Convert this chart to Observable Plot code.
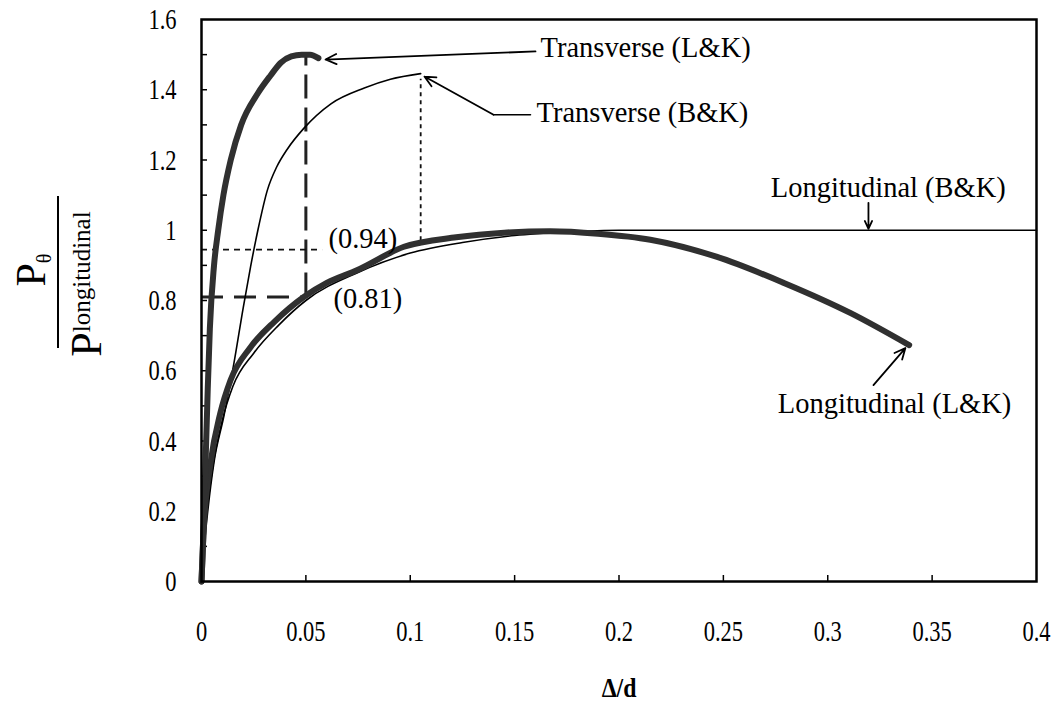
<!DOCTYPE html>
<html>
<head>
<meta charset="utf-8">
<script src="https://cdn.jsdelivr.net/npm/d3@7"></script>
<script src="https://cdn.jsdelivr.net/npm/@observablehq/plot@0.6"></script>
<style>
  html, body { margin: 0; padding: 0; background: white; }
</style>
</head>
<body>
<div id="chart"></div>
<script>
// ---- data ----
const transLK_x = [0, 0.001, 0.002, 0.003, 0.004, 0.006, 0.008, 0.0105, 0.014, 0.019, 0.027, 0.033, 0.038, 0.043, 0.048, 0.052, 0.056];
const transLK_y = [0, 0.15, 0.35, 0.55, 0.72, 0.90, 1.00, 1.10, 1.20, 1.30, 1.39, 1.44, 1.477, 1.495, 1.50, 1.50, 1.49];

const transBK_x = [0, 0.001, 0.003, 0.006, 0.0107, 0.0155, 0.020, 0.0235, 0.027, 0.0316, 0.036, 0.041, 0.049, 0.062, 0.078, 0.0905, 0.105];
const transBK_y = [0, 0.08, 0.20, 0.34, 0.47, 0.62, 0.78, 0.896, 1.00, 1.115, 1.18, 1.23, 1.29, 1.36, 1.405, 1.43, 1.446];

const longLK_x = [0, 0.001, 0.0043, 0.009, 0.0139, 0.0235, 0.035, 0.049, 0.060, 0.0747, 0.097, 0.122, 0.145, 0.167, 0.19, 0.215, 0.247, 0.279, 0.311, 0.339];
const longLK_y = [0, 0.145, 0.336, 0.479, 0.573, 0.667, 0.74, 0.81, 0.85, 0.887, 0.953, 0.98, 0.993, 0.997, 0.99, 0.973, 0.924, 0.85, 0.764, 0.673];

const longBK_x = [0, 0.0015, 0.005, 0.010, 0.015, 0.025, 0.037, 0.050, 0.075, 0.100, 0.125, 0.150, 0.175, 0.200, 0.225, 0.400];
const longBK_y = [0, 0.13, 0.31, 0.46, 0.555, 0.65, 0.73, 0.80, 0.88, 0.935, 0.965, 0.985, 0.995, 1.0, 1.0, 1.0];

// reference values marked on the chart
const markLK = {x: 0.05, yLow: 0.81, yHigh: 1.5};
const markBK = {x: 0.105, xLow: 0.058, yLevel: 0.945, yLow: 0.97, yHigh: 1.43};

// tick values and labels
const xTicks = [0, 0.05, 0.1, 0.15, 0.2, 0.25, 0.3, 0.35, 0.4];
const xTickLabels = ["0", "0.05", "0.1", "0.15", "0.2", "0.25", "0.3", "0.35", "0.4"];
const yTicks = [0, 0.2, 0.4, 0.6, 0.8, 1, 1.2, 1.4, 1.6];
const yTickLabels = ["0", "0.2", "0.4", "0.6", "0.8", "1", "1.2", "1.4", "1.6"];
const yMinorTicks = [0.1, 0.2, 0.3, 0.4, 0.5, 0.6, 0.7, 0.8, 0.9, 1.0, 1.1, 1.2, 1.3, 1.4, 1.5];
const xMinorTicks = [0.05, 0.1, 0.15, 0.2, 0.25, 0.3, 0.35];

const xTitle = "Δ/d";

// annotation labels (anchor point in data units)
const labelText = ["Transverse (L&K)", "Transverse (B&K)", "Longitudinal (B&K)", "Longitudinal (L&K)", "(0.94)", "(0.81)"];
const labelX = [0.1624, 0.1605, 0.329, 0.332, 0.0608, 0.0632];
const labelY = [1.52, 1.335, 1.121, 0.508, 0.978, 0.807];
const labelAnchor = ["start", "start", "middle", "middle", "start", "start"];

// leader arrows: [x1, y1, x2, y2]
const arrowX1 = [0.160, 0.1399, 0.3195, 0.3219];
const arrowY1 = [1.509, 1.329, 1.078, 0.559];
const arrowX2 = [0.0594, 0.1068, 0.3195, 0.3372];
const arrowY2 = [1.486, 1.4375, 1.004, 0.6646];
const leaderBK_x = [0.1576, 0.1399];
const leaderBK_y = [1.329, 1.329];

// ---- build tables ----
const toPts = (xs, ys) => xs.map((x, i) => ({x, y: ys[i]}));
const transLK = toPts(transLK_x, transLK_y);
const transBK = toPts(transBK_x, transBK_y);
const longLK = toPts(longLK_x, longLK_y);
const longBK = toPts(longBK_x, longBK_y);
const labels = labelText.map((t, i) => ({t, x: labelX[i], y: labelY[i], a: labelAnchor[i]}));
const arrows = arrowX1.map((x1, i) => ({x1, y1: arrowY1[i], x2: arrowX2[i], y2: arrowY2[i]}));
const xFmt = new Map(xTicks.map((d, i) => [d, xTickLabels[i]]));
const yFmt = new Map(yTicks.map((d, i) => [d, yTickLabels[i]]));

const W = 1058, H = 703, mL = 201, mR = 22, mT = 19, mB = 122;
const innerW = W - mL - mR, innerH = H - mT - mB;
const thick = "#303030";

const chart = Plot.plot({
  width: W, height: H,
  marginLeft: mL, marginRight: mR, marginTop: mT, marginBottom: mB,
  x: {domain: [0, 0.4]},
  y: {domain: [0, 1.6]},
  style: {fontFamily: "'Liberation Serif', serif", fontSize: "30px", color: "black", background: "white", overflow: "visible"},
  marks: [
    Plot.axisX({ticks: xTicks, tickFormat: d => xFmt.get(d), tickSize: 0, tickPadding: 38, label: null, fontSize: 30, className: "tick-x"}),
    Plot.axisY({ticks: yTicks, tickFormat: d => yFmt.get(d), tickSize: 0, tickPadding: 25, label: null, fontSize: 30, className: "tick-y"}),
    Plot.tickX(xMinorTicks, {x: d => d, insetTop: innerH - 6, stroke: "black", strokeWidth: 1.5}),
    Plot.tickY(yMinorTicks, {y: d => d, insetRight: innerW - 6, stroke: "black", strokeWidth: 1.5}),
    // reference dashed lines
    Plot.ruleY([markLK.yLow], {x1: 0, x2: markLK.x, stroke: "#222", strokeWidth: 3, strokeDasharray: "22,11"}),
    Plot.ruleX([markLK.x], {y1: markLK.yLow, y2: markLK.yHigh, stroke: "#222", strokeWidth: 3, strokeDasharray: "24,9"}),
    Plot.ruleY([markBK.yLevel], {x1: 0, x2: markBK.xLow, stroke: "#111", strokeWidth: 1.8, strokeDasharray: "6,5"}),
    Plot.ruleX([markBK.x], {y1: markBK.yLow, y2: markBK.yHigh, stroke: "#111", strokeWidth: 1.8, strokeDasharray: "4,4"}),
    // curves
    Plot.line(longBK, {x: "x", y: "y", stroke: "black", strokeWidth: 1.6, curve: "monotone-x"}),
    Plot.line(transBK, {x: "x", y: "y", stroke: "black", strokeWidth: 1.6, curve: "monotone-x"}),
    Plot.line(longLK, {x: "x", y: "y", stroke: thick, strokeWidth: 6, curve: "monotone-x"}),
    Plot.line(transLK, {x: "x", y: "y", stroke: thick, strokeWidth: 6, curve: "monotone-x"}),
    // leaders
    Plot.line(toPts(leaderBK_x, leaderBK_y), {x: "x", y: "y", stroke: "black", strokeWidth: 1.6}),
    Plot.arrow(arrows, {x1: "x1", y1: "y1", x2: "x2", y2: "y2", stroke: "black", strokeWidth: 1.8, headLength: 10, headAngle: 50}),
    // labels
    Plot.text(labels.filter(d => d.a === "start"), {x: "x", y: "y", text: "t", textAnchor: "start", fontSize: 30, fill: "black", className: "ann"}),
    Plot.text(labels.filter(d => d.a === "middle"), {x: "x", y: "y", text: "t", textAnchor: "middle", fontSize: 30, fill: "black", className: "ann"}),
    Plot.text([xTitle], {frameAnchor: "bottom", dy: 115, fontSize: 28, fontWeight: "bold", fill: "black", className: "x-title"}),
    Plot.frame({stroke: "black", strokeWidth: 2.5})
  ]
});

document.getElementById("chart").appendChild(chart);

// condense the serif glyphs horizontally, like the reference (scale about each text's anchor)
function condense(selection, K) {
  selection.each(function() {
    const bb = this.getBBox();
    const anchor = getComputedStyle(this).getPropertyValue("text-anchor");
    const ax = anchor === "middle" ? bb.x + bb.width / 2 : anchor === "end" ? bb.x + bb.width : bb.x;
    const t = this.getAttribute("transform") || "";
    this.setAttribute("transform", `${t} translate(${ax},0) scale(${K},1) translate(${-ax},0)`.trim());
  });
}
condense(d3.select(chart).selectAll(".tick-x text, .tick-y text"), 0.75);
condense(d3.select(chart).selectAll(".x-title text"), 0.85);
condense(d3.select(chart).selectAll(".ann text"), 0.95);

// rotated fraction y-axis title
const svg = d3.select(chart);
const g = svg.append("g")
  .attr("transform", "translate(58,272) rotate(-90)")
  .attr("font-family", "'Liberation Serif', serif")
  .attr("fill", "black");
g.append("line").attr("x1", -76).attr("x2", 76).attr("y1", 0).attr("y2", 0)
  .attr("stroke", "black").attr("stroke-width", 2);
const num = g.append("text").attr("x", 2).attr("y", -13).attr("text-anchor", "middle").attr("font-size", 42);
num.append("tspan").text("P");
num.append("tspan").attr("font-size", 20).attr("dy", 6).text("θ");
const den = g.append("text").attr("x", -12).attr("y", 43).attr("text-anchor", "middle").attr("font-size", 44);
den.append("tspan").text("P");
den.append("tspan").attr("font-size", 25).attr("dy", -11).text("longitudinal");
</script>
</body>
</html>
